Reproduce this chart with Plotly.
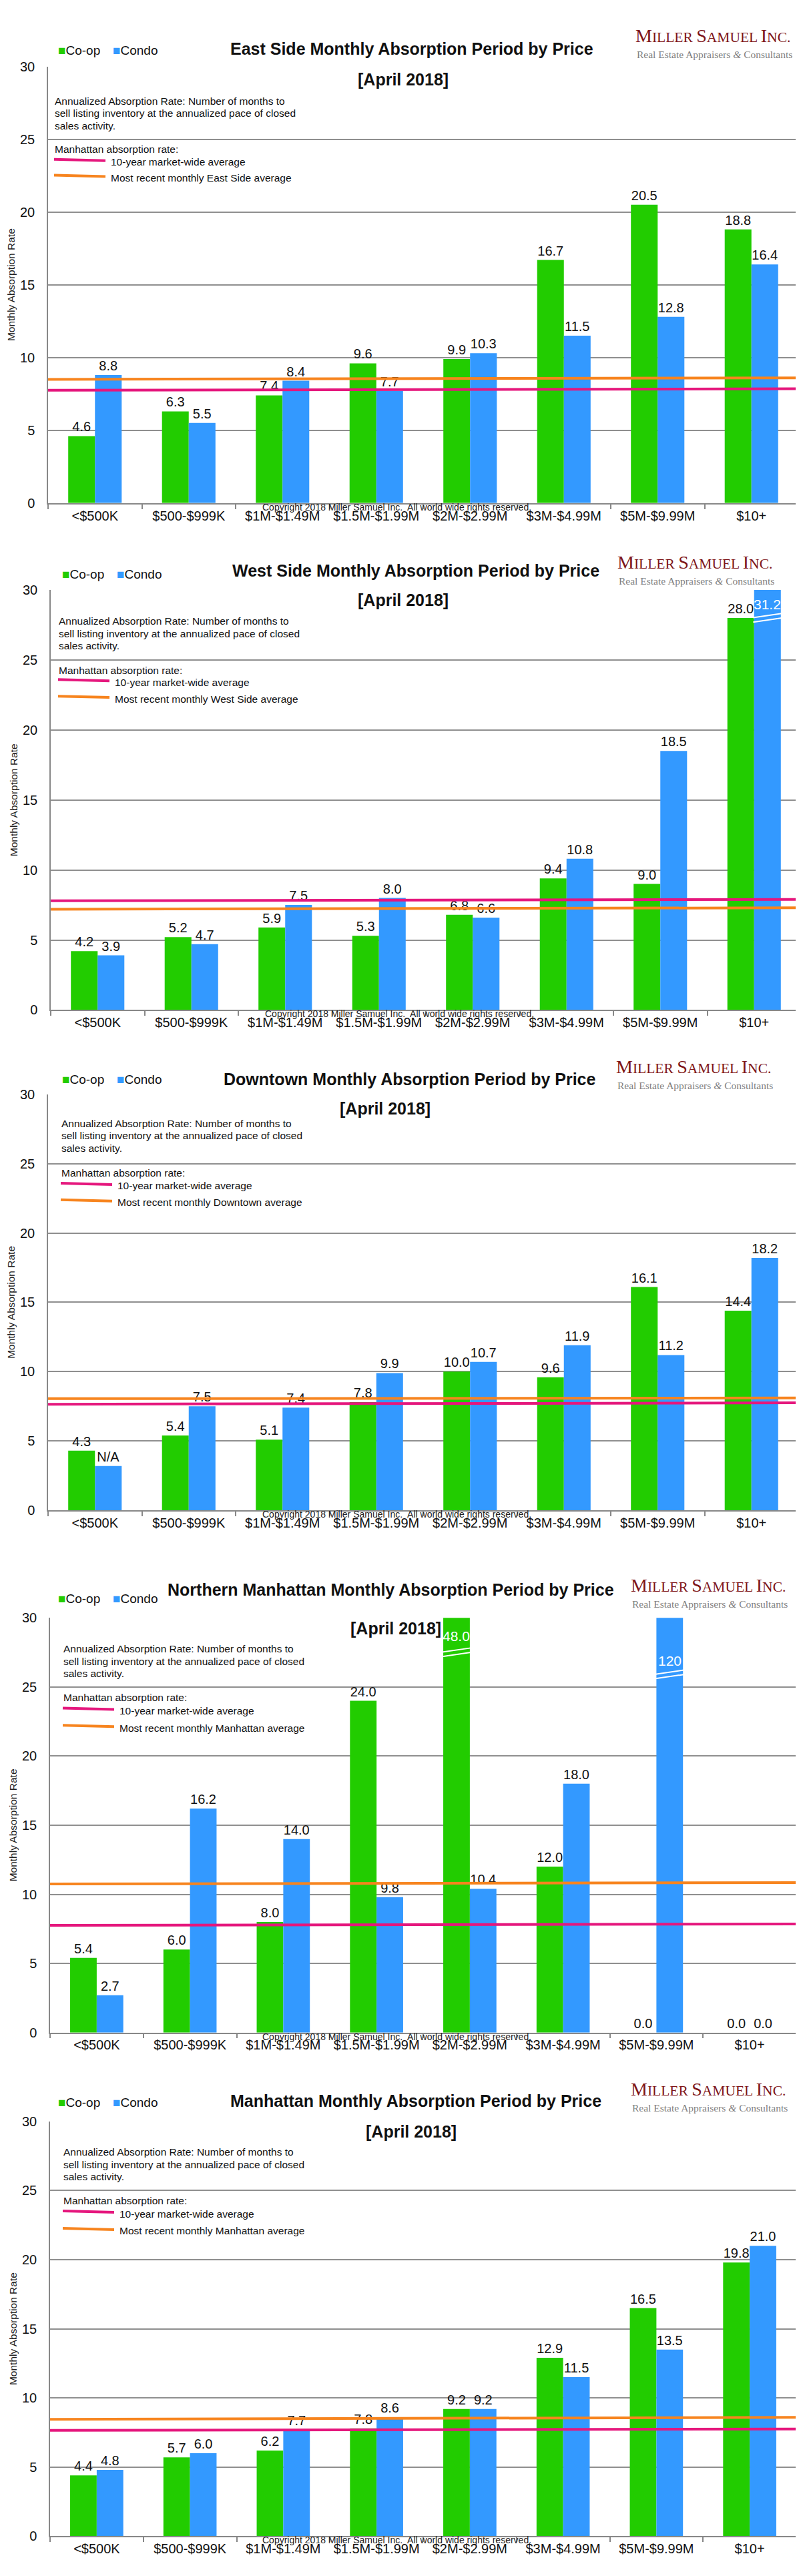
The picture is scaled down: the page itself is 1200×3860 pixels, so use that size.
import plotly.graph_objects as go

# ---------------- data ----------------
categories = ["<$500K", "$500-$999K", "$1M-$1.49M", "$1.5M-$1.99M",
              "$2M-$2.99M", "$3M-$4.99M", "$5M-$9.99M", "$10+"]

east_coop = [4.6, 6.3, 7.4, 9.6, 9.9, 16.7, 20.5, 18.8]
east_condo = [8.8, 5.5, 8.4, 7.7, 10.3, 11.5, 12.8, 16.4]
west_coop = [4.2, 5.2, 5.9, 5.3, 6.8, 9.4, 9.0, 28.0]
west_condo = [3.9, 4.7, 7.5, 8.0, 6.6, 10.8, 18.5, 31.2]
down_coop = [4.3, 5.4, 5.1, 7.8, 10.0, 9.6, 16.1, 14.4]
down_condo = [3.2, 7.5, 7.4, 9.9, 10.7, 11.9, 11.2, 18.2]
down_condo_labels = ["N/A", "7.5", "7.4", "9.9", "10.7", "11.9", "11.2", "18.2"]
north_coop = [5.4, 6.0, 8.0, 24.0, 48.0, 12.0, 0.0, 0.0]
north_condo = [2.7, 16.2, 14.0, 9.8, 10.4, 18.0, 120.0, 0.0]
man_coop = [4.4, 5.7, 6.2, 7.8, 9.2, 12.9, 16.5, 19.8]
man_condo = [4.8, 6.0, 7.7, 8.6, 9.2, 11.5, 13.5, 21.0]

# reference lines: value at left edge, value at right edge
east_avg10, east_recent = [7.75, 7.85], [8.5, 8.6]
west_avg10, west_recent = [7.8, 7.9], [7.2, 7.3]
down_avg10, down_recent = [7.65, 7.75], [8.05, 8.1]
north_avg10, north_recent = [7.75, 7.85], [10.75, 10.85]
man_avg10, man_recent = [7.65, 7.75], [8.45, 8.6]

titles = ["East Side Monthly Absorption Period by Price",
          "West Side Monthly Absorption Period by Price",
          "Downtown Monthly Absorption Period by Price",
          "Northern Manhattan Monthly Absorption Period by Price",
          "Manhattan Monthly Absorption Period by Price"]
recent_names = ["East Side", "West Side", "Downtown", "Manhattan", "Manhattan"]

# ---------------- layout geometry (pixels) ----------------
W, H = 1200, 3860
panels = [
    dict(coop=east_coop, condo=east_condo, clabels=None, avg10=east_avg10, recent=east_recent,
         top=81, bot=739, left=64, right=1188, title_y=54, title_x=609, leg_x=77, leg_y=57,
         logo_x=942, logo_y=35, apr=(596, 101), note_x=72, note_y=133, man_y=206, l1=222, l2=246,
         breaks=[]),
    dict(coop=west_coop, condo=west_condo, clabels=None, avg10=west_avg10, recent=west_recent,
         top=870, bot=1503, left=68, right=1192, title_y=841, title_x=615, leg_x=83, leg_y=846,
         logo_x=915, logo_y=828, apr=(596, 885), note_x=78, note_y=917, man_y=991, l1=1006, l2=1031,
         breaks=[("condo", 7, 27.7, 29.0)]),
    dict(coop=down_coop, condo=down_condo, clabels=down_condo_labels, avg10=down_avg10, recent=down_recent,
         top=1630, bot=2257, left=64, right=1188, title_y=1607, title_x=606, leg_x=83, leg_y=1608,
         logo_x=913, logo_y=1589, apr=(569, 1651), note_x=82, note_y=1674, man_y=1748, l1=1765, l2=1790,
         breaks=[]),
    dict(coop=north_coop, condo=north_condo, clabels=None, avg10=north_avg10, recent=north_recent,
         top=2419, bot=3044, left=67, right=1185, title_y=2377, title_x=577, leg_x=77, leg_y=2390,
         logo_x=935, logo_y=2370, apr=(585, 2435), note_x=85, note_y=2466, man_y=2539, l1=2556, l2=2582,
         breaks=[("coop", 4, 27.2, 28.7), ("condo", 6, 25.6, 26.9)]),
    dict(coop=man_coop, condo=man_condo, clabels=None, avg10=man_avg10, recent=man_recent,
         top=3178, bot=3803, left=67, right=1185, title_y=3147, title_x=615, leg_x=77, leg_y=3149,
         logo_x=935, logo_y=3129, apr=(608, 3193), note_x=85, note_y=3224, man_y=3297, l1=3314, l2=3340,
         breaks=[]),
]

GREEN = "#22CC00"
BLUE = "#3399FF"
ORANGE = "#F7841E"
PINK = "#E5177D"
FONT = "Liberation Sans, Arial, sans-serif"
SERIF = "Liberation Serif, Times New Roman, serif"
BARGAP = 0.43
BW = (1 - BARGAP) / 2


def px(x):
    return x / W


def py(y):
    return 1 - y / H


def fmt(v):
    if v >= 100:
        return "%.0f" % v
    return "%.1f" % v


fig = go.Figure()
annotations = []
shapes = []
layout_axes = {}

for i, p in enumerate(panels):
    n = i + 1
    xa = "x" if n == 1 else "x%d" % n
    ya = "y" if n == 1 else "y%d" % n
    for name, vals, color, labs in [("Co-op", p["coop"], GREEN, None),
                                     ("Condo", p["condo"], BLUE, p["clabels"])]:
        texts = []
        for k, v in enumerate(vals):
            if v > 30:
                texts.append("")
            elif labs is not None:
                texts.append(labs[k])
            else:
                texts.append(fmt(v))
        fig.add_trace(go.Bar(
            x=categories, y=vals, name=name, marker=dict(color=color, line=dict(width=0)),
            text=texts, textposition="outside", cliponaxis=False,
            textfont=dict(family=FONT, size=20, color="#111111"),
            xaxis=xa, yaxis=ya, showlegend=False, hoverinfo="x+y"))

    dom_x = [px(p["left"]), px(p["right"])]
    dom_y = [py(p["bot"]), py(p["top"])]
    layout_axes["xaxis" if n == 1 else "xaxis%d" % n] = dict(
        domain=dom_x, anchor=ya, type="category", tickson="boundaries",
        ticks="outside", ticklen=7, tickcolor="#888888", tickwidth=1.5,
        showline=True, linecolor="#888888", linewidth=1.5, showgrid=False,
        tickfont=dict(family=FONT, size=20, color="#111111"), fixedrange=True)
    layout_axes["yaxis" if n == 1 else "yaxis%d" % n] = dict(
        domain=dom_y, anchor=xa, range=[0, 30], tickvals=[0, 5, 10, 15, 20, 25, 30],
        showline=True, linecolor="#888888", linewidth=1.5, showgrid=True,
        gridcolor="#8f8f8f", gridwidth=1.5, zeroline=False, ticks="",
        ticklabelstandoff=14,
        tickfont=dict(family=FONT, size=20, color="#111111"),
        title=dict(text="Monthly Absorption Rate", font=dict(family=FONT, size=15.5, color="#222222"),
                   standoff=4), fixedrange=True)

    # reference lines
    for vals, color, wdt in [(p["recent"], ORANGE, 4), (p["avg10"], PINK, 4)]:
        shapes.append(dict(type="line", xref="%s domain" % xa, yref=ya, x0=0.0, x1=1.0,
                           y0=vals[0], y1=vals[1], line=dict(color=color, width=wdt), layer="above"))

    # broken bars
    for series, idx, yb, ylab in p["breaks"]:
        x0 = idx - BW if series == "coop" else idx
        x1 = x0 + BW
        for off in (0.0, 0.32):
            shapes.append(dict(type="line", xref=xa, yref=ya, x0=x0 - 0.01, x1=x1 + 0.01,
                               y0=yb + off, y1=yb + off + 0.3,
                               line=dict(color="white", width=2), layer="above"))
        vals = p["coop"] if series == "coop" else p["condo"]
        annotations.append(dict(xref=xa, yref=ya, x=(x0 + x1) / 2, y=ylab, text=fmt(vals[idx]),
                                showarrow=False, font=dict(family=FONT, size=21, color="white")))

    # title
    annotations.append(dict(xref="paper", yref="paper", x=px(p["title_x"]), y=py(p["title_y"]),
                            text="<b>%s</b>" % titles[i], showarrow=False, xanchor="center",
                            yanchor="middle", font=dict(family=FONT, size=25, color="#111111")))
    # legend
    annotations.append(dict(xref="paper", yref="paper", x=px(p["leg_x"]), y=py(p["leg_y"]),
                            text="<span style='color:%s'>■</span>Co-op" % GREEN, showarrow=False,
                            xanchor="left", yanchor="middle",
                            font=dict(family=FONT, size=19, color="#111111")))
    annotations.append(dict(xref="paper", yref="paper", x=px(p["leg_x"] + 82), y=py(p["leg_y"]),
                            text="<span style='color:%s'>■</span>Condo" % BLUE, showarrow=False,
                            xanchor="left", yanchor="middle",
                            font=dict(family=FONT, size=19, color="#111111")))
    # logo
    logo = ("<span style='font-size:28px'>M</span>ILLER <span style='font-size:28px'>S</span>AMUEL "
            "<span style='font-size:28px'>I</span>NC.")
    annotations.append(dict(xref="paper", yref="paper", x=px(p["logo_x"]), y=py(p["logo_y"]),
                            text=logo, showarrow=False, xanchor="left", yanchor="middle",
                            font=dict(family=SERIF, size=21.5, color="#7E1518")))
    annotations.append(dict(xref="paper", yref="paper", x=px(p["logo_x"] + 2), y=py(p["logo_y"] + 28),
                            text="Real Estate Appraisers <i>&amp;</i> Consultants", showarrow=False,
                            xanchor="left", yanchor="middle",
                            font=dict(family=SERIF, size=15.5, color="#808080")))
    # [April 2018]
    annotations.append(dict(xref="paper", yref="paper", x=px(p["apr"][0]), y=py(p["apr"][1]),
                            text="<b>[April 2018]</b>", showarrow=False, xanchor="center",
                            yanchor="middle", font=dict(family=FONT, size=25, color="#111111")))
    # notes
    notes = ["Annualized Absorption Rate: Number of months to",
             "sell listing inventory at the annualized pace of closed",
             "sales activity."]
    for k, t in enumerate(notes):
        annotations.append(dict(xref="paper", yref="paper", x=px(p["note_x"]),
                                y=py(p["note_y"] + k * 18.5), text=t, showarrow=False,
                                xanchor="left", yanchor="middle",
                                font=dict(family=FONT, size=15.5, color="#111111")))
    annotations.append(dict(xref="paper", yref="paper", x=px(p["note_x"]), y=py(p["man_y"]),
                            text="Manhattan absorption rate:", showarrow=False,
                            xanchor="left", yanchor="middle",
                            font=dict(family=FONT, size=15.5, color="#111111")))
    for ly, t, color in [(p["l1"], "10-year market-wide average", PINK),
                         (p["l2"], "Most recent monthly %s average" % recent_names[i], ORANGE)]:
        shapes.append(dict(type="line", xref="paper", yref="paper",
                           x0=px(p["note_x"] + 1), x1=px(p["note_x"] + 78),
                           y0=py(ly - 1), y1=py(ly + 1), line=dict(color=color, width=4)))
        annotations.append(dict(xref="paper", yref="paper", x=px(p["note_x"] + 84), y=py(ly + 3),
                                text=t, showarrow=False, xanchor="left", yanchor="middle",
                                font=dict(family=FONT, size=15.5, color="#111111")))
    # copyright
    annotations.append(dict(xref="paper", yref="paper", x=px((p["left"] + p["right"]) / 2 - 40),
                            y=py(p["bot"] + 6),
                            text="Copyright 2018 Miller Samuel Inc.  All world wide rights reserved.",
                            showarrow=False, xanchor="center", yanchor="middle",
                            font=dict(family=FONT, size=14, color="#222222")))

fig.update_layout(
    width=W, height=H, autosize=False,
    margin=dict(l=0, r=0, t=0, b=0),
    paper_bgcolor="white", plot_bgcolor="white",
    barmode="group", bargap=BARGAP, bargroupgap=0,
    annotations=annotations, shapes=shapes, showlegend=False,
    font=dict(family=FONT, color="#111111"),
    **layout_axes)

fig.write_html("out.html")
